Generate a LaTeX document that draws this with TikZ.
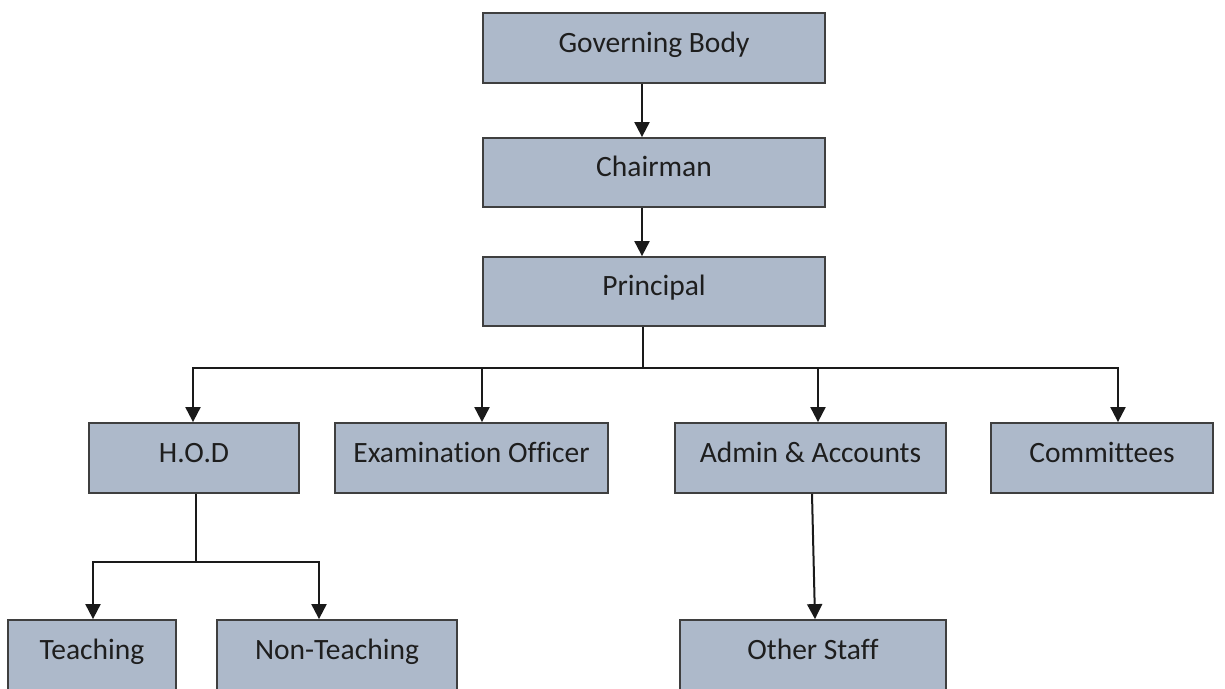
\documentclass[tikz,border=0pt]{standalone}
\usepackage{fontspec}
\setmainfont[Ligatures={NoCommon}]{Carlito}
\usetikzlibrary{arrows.meta}
\definecolor{boxfill}{HTML}{ADB9CA}
\definecolor{boxline}{HTML}{3F3F3F}
\definecolor{txt}{HTML}{1E1E1E}
\definecolor{conncol}{HTML}{1A1A1A}
\tikzset{
  orgbox/.style={draw=boxline, line width=1.8pt, fill=boxfill, rectangle,
    inner sep=0pt, text=txt, font=\fontsize{29.5}{35}\selectfont,
    text height=0.8em, text depth=0pt},
  conn/.style={draw=conncol, line width=2pt},
  arr/.style={conn, -{Triangle[width=15pt,length=15pt]}}
}
\begin{document}
\begin{tikzpicture}[x=1pt,y=-1pt]
\useasboundingbox (0,0) rectangle (1225,688);
\node[orgbox, minimum width=342pt, minimum height=70pt] (gb) at (654,48) {Governing Body};
\node[orgbox, minimum width=342pt, minimum height=69pt] (ch) at (654,172.5) {Chairman};
\node[orgbox, minimum width=342pt, minimum height=69pt] (pr) at (654,291.5) {Principal};
\node[orgbox, minimum width=210pt, minimum height=70pt] (hod) at (194,458) {H.O.D};
\node[orgbox, minimum width=273pt, minimum height=70pt] (exam) at (471.5,458) {Examination Officer};
\node[orgbox, minimum width=271pt, minimum height=70pt] (admin) at (810.5,458) {Admin \& Accounts};
\node[orgbox, minimum width=222pt, minimum height=70pt] (com) at (1102,458) {Committees};
\node[orgbox, minimum width=168pt, minimum height=70pt] (teach) at (92,655) {Teaching};
\node[orgbox, minimum width=240pt, minimum height=70pt] (non) at (337,655) {Non-Teaching};
\node[orgbox, minimum width=266pt, minimum height=70pt] (other) at (813,655) {Other Staff};

\draw[arr] ([xshift=-12pt]gb.south) -- ([xshift=-12pt]ch.north);
\draw[arr] ([xshift=-12pt]ch.south) -- ([xshift=-12pt]pr.north);

\coordinate (bus) at (643,368);
\draw[conn] ([xshift=-11pt]pr.south) -- (bus);
\draw[arr] (bus) -| ([xshift=-1pt]hod.north);
\draw[arr] (bus) -| ([xshift=10.5pt]exam.north);
\draw[arr] (bus) -| ([xshift=7.5pt]admin.north);
\draw[arr] (bus) -| ([xshift=16pt]com.north);

\coordinate (hbus) at (196,562);
\draw[conn] ([xshift=2pt]hod.south) -- (hbus);
\draw[arr] (hbus) -| ([xshift=1pt]teach.north);
\draw[arr] (hbus) -| ([xshift=-18pt]non.north);

\draw[arr] ([xshift=1.5pt]admin.south) -- ([xshift=2pt]other.north);
\end{tikzpicture}
\end{document}
